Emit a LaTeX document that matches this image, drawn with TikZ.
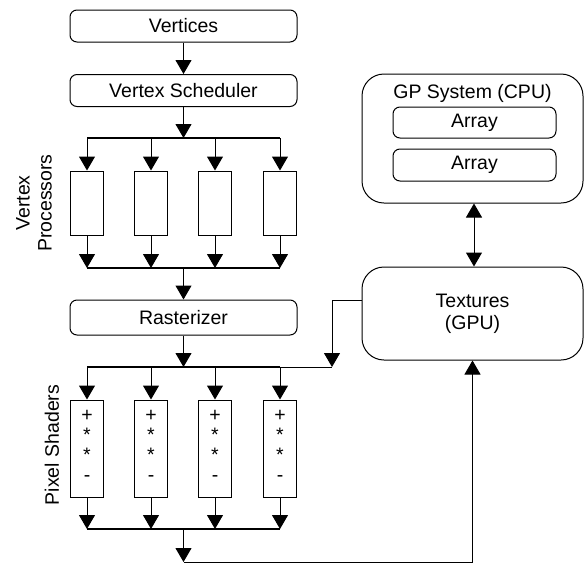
\documentclass[tikz,border=0pt]{standalone}
\usepackage{fontspec}
\setmainfont{Liberation Sans}
\usetikzlibrary{arrows.meta,calc}
\tikzset{
  stage/.style={draw, rounded corners=7pt, minimum width=227pt, minimum height=32pt, inner sep=0pt},
  unit/.style={draw, minimum width=33pt, inner sep=0pt},
  store/.style={draw, rounded corners=22pt, minimum width=221pt, inner sep=0pt},
  ops/.style={inner sep=0pt, align=center, font=\fontsize{19.5}{20}\selectfont},
  flow/.style={-{Triangle[width=16pt,length=14pt]}, line width=1pt},
  dflow/.style={{Triangle[width=16pt,length=14pt]}-{Triangle[width=16pt,length=14pt]}, line width=1pt},
  bus/.style={line width=1.6pt}
}
\begin{document}
\begin{tikzpicture}[x=1pt,y=-1pt,line width=1pt,font=\fontsize{19.5}{22}\selectfont]
\useasboundingbox (0,0) rectangle (584,563);
% vertex side
\node[stage] (vert) at (183.5,26) {Vertices};
\node[stage] (sched) at (183.5,90.5) {Vertex Scheduler};
\draw[flow] (vert) -- (sched);
\coordinate (vsplit) at (183.5,138);
\coordinate (vjoin) at (183.5,268);
\draw[flow] (sched) -- (vsplit);
\foreach \x [count=\i] in {87,151,215,280} {
  \node[unit, minimum height=64pt] (vp\i) at (\x,203) {};
  \draw[flow] (vp\i.north |- vsplit) -- (vp\i.north);
  \draw[flow] (vp\i.south) -- (vp\i.south |- vjoin);
}
\draw[bus] (vp1.north |- vsplit) -- (vp4.north |- vsplit);
\draw[bus] (vp1.south |- vjoin) -- (vp4.south |- vjoin);
\node[rotate=90, align=center] (vplabel) at (34,203) {Vertex\\Processors};
% rasterizer and pixel side
\node[stage, minimum height=35pt] (rast) at (183.5,317.5) {Rasterizer};
\draw[flow] (vjoin) -- (rast);
\coordinate (psplit) at (183.5,367);
\coordinate (pjoin) at (183.5,529);
\coordinate (pout) at (183.5,562);
\draw[flow] (rast) -- (psplit);
\foreach \x [count=\i] in {87,151,215,280} {
  \node[unit, minimum height=97pt] (ps\i) at (\x,448.5) {};
  \node[ops] (op\i) at (\x,446) {+\\*\\*\\-};
  \draw[flow] (ps\i.north |- psplit) -- (ps\i.north);
  \draw[flow] (ps\i.south) -- (ps\i.south |- pjoin);
}
\node[rotate=90] (pslabel) at (52,445) {Pixel Shaders};
% memory side
\node[store, minimum height=129pt] (gp) at (472.5,138.5) {};
\node (gptitle) at (472.5,93) {GP System (CPU)};
\node[stage, minimum width=163pt, minimum height=31pt] (arr1) at (474.5,122.5) {Array};
\node[stage, minimum width=163pt, minimum height=32pt] (arr2) at (474.5,165) {Array};
\node[store, minimum height=93pt, align=center] (tex) at (472.5,313.5) {Textures\\(GPU)};
\draw[dflow] (gp.south -| 474,0) -- (tex.north -| 474,0);
\coordinate (texo) at ($(tex.west)+(0,-13.5)$);
\coordinate (pfeed) at (332,367);
\draw[flow] (texo) -| (pfeed);
\draw (ps4.north |- psplit) -- (pfeed);
\draw[bus] (ps1.north |- psplit) -- (ps4.north |- psplit);
\draw[bus] (ps1.south |- pjoin) -- (ps4.south |- pjoin);
\draw[flow] (pjoin) -- (pout);
\draw[flow] (pout) -| (tex.south);
\end{tikzpicture}
\end{document}
